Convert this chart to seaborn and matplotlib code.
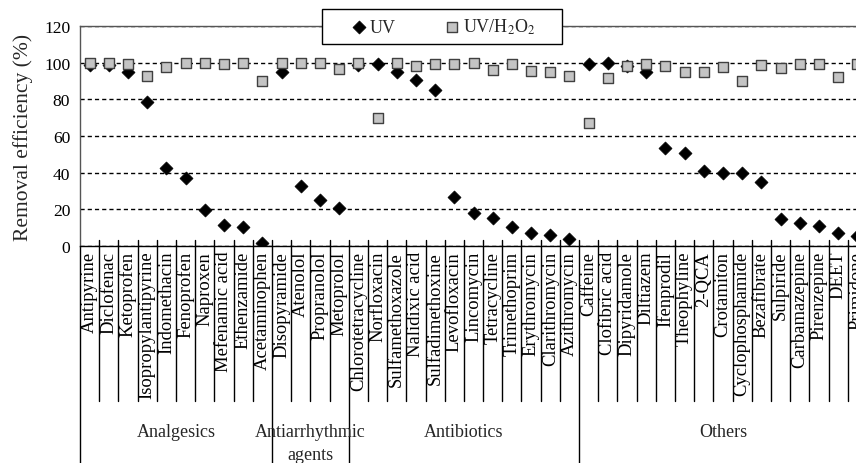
import matplotlib
matplotlib.use("Agg")
import matplotlib.pyplot as plt
from matplotlib.patches import Rectangle
import seaborn as sns
import pandas as pd

compounds = ["Antipyrine", "Diclofenac", "Ketoprofen", "Isopropylantipyrine", "Indomethacin",
             "Fenoprofen", "Naproxen", "Mefenamic acid", "Ethenzamide", "Acetaminophen",
             "Disopyramide", "Atenolol", "Propranolol", "Metoprolol",
             "Chlorotetracycline", "Norfloxacin", "Sulfamethoxazole", "Nalidixic acid",
             "Sulfadimethoxine", "Levofloxacin", "Lincomycin", "Tetracycline", "Trimethoprim",
             "Erythromycin", "Clarithromycin", "Azithromycin",
             "Caffeine", "Clofibric acid", "Dipyridamole", "Diltiazem", "Ifenprodil",
             "Theophyline", "2-QCA", "Crotamiton", "Cyclophosphamide", "Bezafibrate",
             "Sulpiride", "Carbamazepine", "Pirenzepine", "DEET", "Primidone"]

uv = [99, 99, 95, 78.7, 42.5, 37, 19.6, 11.5, 10.5, 1.5,
      95, 33, 25.3, 20.7,
      98.5, 99.5, 95, 90.6, 85.1, 27, 18, 15.3, 10.2, 6.9, 6.2, 3.8,
      99.5, 99.7, 98, 94.7, 53.6, 50.9, 40.7, 40, 39.6, 34.7, 14.9, 12.4, 10.9, 6.9, 5.6]

uv_h2o2 = [100, 100, 99.5, 92.9, 97.6, 100, 100, 99.2, 100, 90.2,
           100, 100, 100, 96.4,
           100, 69.6, 100, 98.4, 99.3, 99.3, 99.8, 96.2, 99.3, 95.6, 95.1, 92.9,
           66.9, 91.8, 98.4, 99.5, 98.4, 95.1, 95.1, 97.8, 90.2, 98.7, 97.1, 99.3, 99.3, 92.4, 99.3]

groups = ["Analgesics", "Antiarrhythmic\nagents", "Antibiotics", "Others"]
group_sizes = [10, 4, 12, 15]

yticks = [0, 20, 40, 60, 80, 100, 120]

sns.set_theme(style="white")
plt.rcParams["font.family"] = ["Liberation Serif", "DejaVu Serif"]
plt.rcParams["mathtext.fontset"] = "stix"

W, H = 856, 464
fig = plt.figure(figsize=(W / 100, H / 100), dpi=100)
ax_left, ax_right, ax_top, ax_bot = 80, 867, 27, 247
ax = fig.add_axes([ax_left / W, 1 - ax_bot / H, (ax_right - ax_left) / W, (ax_bot - ax_top) / H])

df = pd.DataFrame({"compound": compounds, "UV": uv, "UVH": uv_h2o2})

sns.scatterplot(data=df, x="compound", y="UV", ax=ax, marker="D", s=44,
                color="black", edgecolor="black", linewidth=0.5, label="UV", zorder=3)
sns.scatterplot(data=df, x="compound", y="UVH", ax=ax, marker="s", s=62,
                color="#c4c4c4", edgecolor="#404040", linewidth=1.0,
                label=r"UV/H$_2$O$_2$", zorder=4)

handles, labels = ax.get_legend_handles_labels()
if ax.get_legend() is not None:
    ax.get_legend().remove()

n = len(compounds)
ax.set_xlim(-0.5, n - 0.5)
ax.set_ylim(0, 120)
ax.set_yticks(yticks)
ax.set_yticklabels([str(t) for t in yticks], fontsize=12.6)
ax.set_xticks(range(n))
ax.set_xticklabels(compounds, rotation=90, fontsize=13.4, va="top", ha="center")
ax.tick_params(axis="both", length=0, colors="black")
ax.tick_params(axis="y", pad=7)
ax.tick_params(axis="x", pad=3.5)
ax.set_xlabel("")
ax.set_ylabel("")

ax.yaxis.grid(True, linestyle=(0, (3, 2.2)), color="black", linewidth=1.0)
ax.xaxis.grid(False)
ax.set_axisbelow(True)
for side in ["left", "bottom", "top", "right"]:
    ax.spines[side].set_color("black")
    ax.spines[side].set_linewidth(1.0)
ax.spines["left"].set_color("#555555")
ax.spines["top"].set_color("#555555")

# category axis dividers (multi-level category axis)
trans = ax.get_xaxis_transform()
axh = ax_bot - ax_top
above = 6 / axh
below_cat = -(402 - ax_bot) / axh
below_grp = -(480 - ax_bot) / axh
bounds = [-0.5]
acc = -0.5
for g in group_sizes:
    acc += g
    bounds.append(acc)
group_edges = set(bounds)
for k in range(1, n):
    xb = k - 0.5
    bottom = below_grp if xb in group_edges else below_cat
    ax.plot([xb, xb], [above, bottom], transform=trans, color="black",
            linewidth=1.0, clip_on=False, zorder=1)
ax.plot([-0.5, -0.5], [0, below_grp], transform=trans, color="black",
        linewidth=1.0, clip_on=False, zorder=1)

grp_y = -(424 - ax_bot) / axh
for name, lo, hi in zip(groups, bounds[:-1], bounds[1:]):
    ax.text((lo + hi) / 2, grp_y, name, transform=trans, ha="center", va="top",
            fontsize=13, linespacing=1.5, clip_on=False)

fig.text(23 / W, 1 - 137 / H, "Removal efficiency (%)", rotation=90,
         ha="center", va="center", fontsize=15.5)

# legend box
box = Rectangle((322 / W, 1 - 45 / H), (562 - 322) / W, 35 / H, transform=fig.transFigure,
                facecolor="white", edgecolor="black", linewidth=1.0, zorder=4)
fig.patches.append(box)

leg = fig.legend(handles, labels, loc="center", bbox_to_anchor=(443.5 / W, 1 - 27.5 / H),
                 ncol=2, frameon=False, fontsize=13,
                 handlelength=0.8, handletextpad=0.21, columnspacing=2.7, borderpad=0.3)
leg.set_zorder(5)

fig.savefig("out.png", dpi=100)
